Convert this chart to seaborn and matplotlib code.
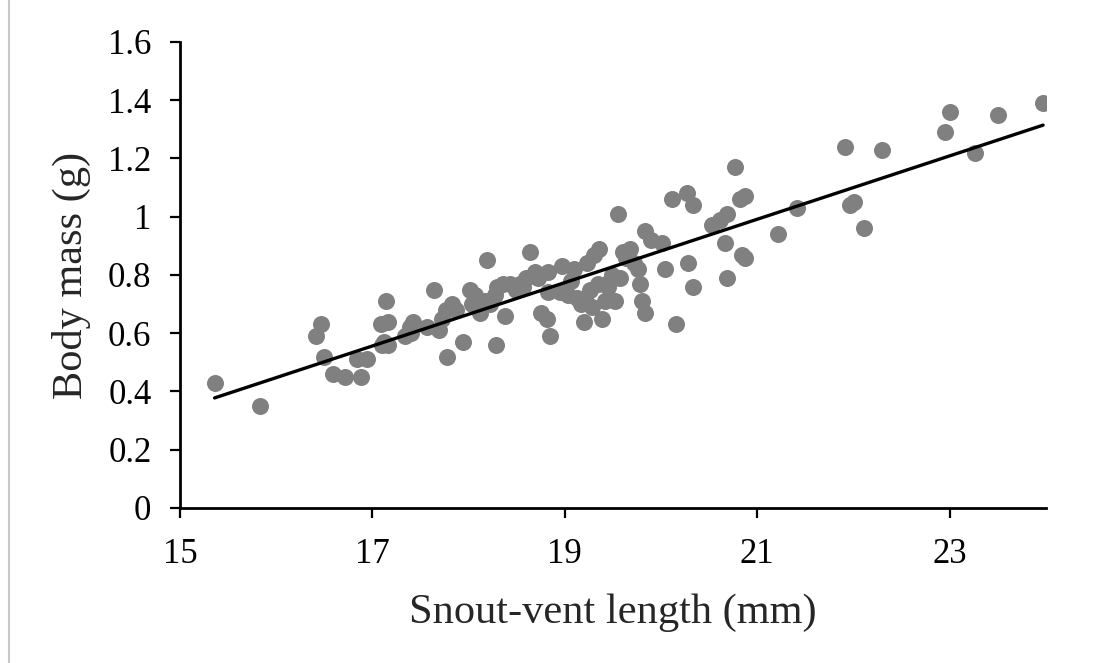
import matplotlib
matplotlib.use("Agg")
import matplotlib.pyplot as plt
import numpy as np
import pandas as pd
import seaborn as sns
from matplotlib.lines import Line2D

# valori (lunghezza muso-cloaca in mm, massa in g)
svl_mm = [
    15.36, 15.83, 16.41, 16.47, 16.50, 16.59, 16.71, 16.88, 16.84, 16.94,
    17.10, 17.09, 17.14, 17.16, 17.16, 17.34, 17.39, 17.42, 17.64, 17.69,
    17.72, 17.76, 17.78, 17.83, 17.87, 17.94, 18.01, 18.03, 18.12, 18.17,
    18.19, 18.22, 18.27, 18.29, 18.36, 18.38, 18.28, 18.43, 18.53, 18.60,
    18.64, 18.69, 18.75, 18.82, 18.83, 18.81, 18.85, 18.95, 18.97, 19.00,
    19.06, 19.09, 19.13, 19.20, 19.21, 19.23, 19.26, 19.30, 19.34, 19.36,
    19.39, 19.42, 19.45, 19.49, 19.52, 19.55, 19.57, 19.64, 19.68, 19.76,
    19.78, 19.80, 19.83, 19.83, 19.90, 20.01, 20.04, 20.11, 20.16, 20.27,
    20.28, 20.33, 20.33, 20.53, 20.61, 20.66, 20.68, 20.69, 20.77, 20.82,
    20.84, 20.87, 20.87, 21.21, 21.41, 21.91, 21.96, 22.00, 22.11, 22.30,
    22.95, 23.00, 23.26, 23.50, 23.97,
    17.12, 17.40, 17.57, 18.07, 18.49, 18.57, 18.72, 19.03, 19.17, 19.28,
    19.47, 19.60, 19.72,
]
body_mass_g = [
    0.43, 0.35, 0.59, 0.63, 0.52, 0.46, 0.45, 0.45, 0.51, 0.51,
    0.56, 0.63, 0.71, 0.64, 0.56, 0.59, 0.62, 0.64, 0.75, 0.61,
    0.65, 0.68, 0.52, 0.70, 0.68, 0.57, 0.75, 0.70, 0.67, 0.71,
    0.85, 0.70, 0.73, 0.76, 0.77, 0.66, 0.56, 0.77, 0.77, 0.79,
    0.88, 0.81, 0.67, 0.81, 0.74, 0.65, 0.59, 0.74, 0.83, 0.74,
    0.78, 0.82, 0.72, 0.64, 0.72, 0.84, 0.75, 0.87, 0.77, 0.89,
    0.65, 0.71, 0.76, 0.80, 0.71, 1.01, 0.79, 0.86, 0.89, 0.82,
    0.77, 0.71, 0.95, 0.67, 0.92, 0.91, 0.82, 1.06, 0.63, 1.08,
    0.84, 1.04, 0.76, 0.97, 0.99, 0.91, 1.01, 0.79, 1.17, 1.06,
    0.87, 1.07, 0.86, 0.94, 1.03, 1.24, 1.04, 1.05, 0.96, 1.23,
    1.29, 1.36, 1.22, 1.35, 1.39,
    0.57, 0.60, 0.62, 0.73, 0.75, 0.76, 0.79, 0.73, 0.70, 0.69,
    0.78, 0.88, 0.84,
]

y_ticks = [0, 0.2, 0.4, 0.6, 0.8, 1.0, 1.2, 1.4, 1.6]
x_ticks = [15, 17, 19, 21, 23]

df = pd.DataFrame({"svl": svl_mm, "mass": body_mass_g})

sns.set_theme(style="ticks")
plt.rcParams["font.family"] = ["Liberation Serif", "DejaVu Serif"]

fig = plt.figure(figsize=(10.94, 6.63), dpi=100)
ax = fig.add_axes([0.1645, 0.2338, 0.7916, 0.7029])

sns.regplot(
    data=df, x="svl", y="mass", ci=None, ax=ax,
    scatter_kws={"s": 150, "color": "#808080", "alpha": 1, "linewidths": 0, "zorder": 2},
    line_kws={"color": "black", "linewidth": 2.4, "zorder": 3},
    truncate=True,
)

ax.set_xlim(15, 24)
ax.set_ylim(0, 1.6)
ax.set_xticks(x_ticks)
ax.set_yticks(y_ticks)
ax.set_yticklabels([f"{v:g}" for v in y_ticks])
ax.tick_params(axis="both", labelsize=25, colors="#000000", width=1.6, length=7.5,
               direction="out")
ax.tick_params(axis="y", pad=13)
ax.tick_params(axis="x", pad=14)

for side in ["top", "right"]:
    ax.spines[side].set_visible(False)
for side in ["left", "bottom"]:
    ax.spines[side].set_color("black")
    ax.spines[side].set_linewidth(2)

ax.set_xlabel("Snout-vent length (mm)", fontsize=30.5, labelpad=16)
ax.set_ylabel("Body mass (g)", fontsize=30.5, labelpad=12)

# bordo grigio sottile a sinistra
fig.add_artist(Line2D([0.008, 0.008], [0, 1], color="#c8c8c8", linewidth=1.5,
                      transform=fig.transFigure))

fig.savefig("out.png", dpi=100, facecolor="white")
